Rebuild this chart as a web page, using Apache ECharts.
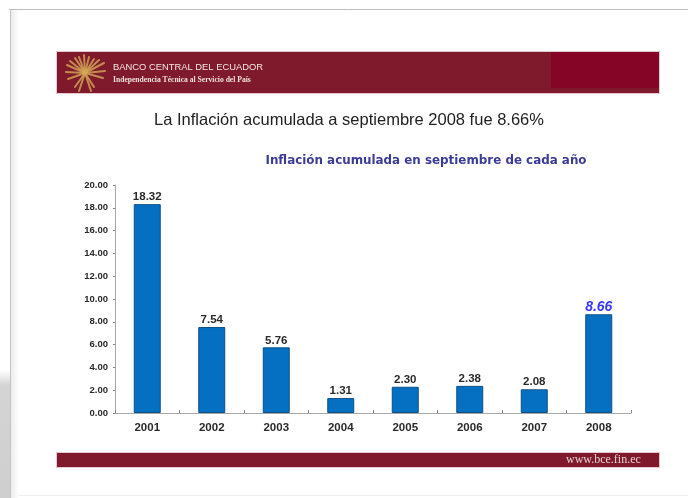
<!DOCTYPE html>
<html>
<head>
<meta charset="utf-8">
<style>
html, body { margin: 0; padding: 0; background: #fff; }
#chart { width: 688px; height: 498px; }
</style>
<script src="https://cdn.jsdelivr.net/npm/echarts@6/dist/echarts.min.js"></script>
</head>
<body>
<div id="chart"></div>
<script>
const years = ['2001', '2002', '2003', '2004', '2005', '2006', '2007', '2008'];
const inflation = [18.32, 7.54, 5.76, 1.31, 2.30, 2.38, 2.08, 8.66];
const chartFont = 'Liberation Sans, Arial, sans-serif';

const dataLabel = {
    show: true,
    position: 'top',
    distance: 1,
    formatter: (p) => p.value.toFixed(2),
    fontFamily: chartFont,
    fontSize: 11.5,
    fontWeight: 'bold',
    color: '#2a2a2a'
};

// last bar has its own blue italic label
const barData = inflation.map((v, i) => {
    if (i === inflation.length - 1) {
        return {
            value: v,
            label: { fontSize: 14, fontStyle: 'italic', color: '#3a3aff', distance: 0 }
        };
    }
    return v;
});

// gold rays of the bank's logo
const logoRays = [
    [-18, -8], [-15, -12], [-10, -15], [-6, -16], [-1, -18], [4, -16], [9, -14], [14, -13], [19, -10],
    [-19, -1], [20, -2], [-17, 6], [18, 5], [-10, 14], [-6, 18], [9, 14], [6, 18]
].map(([dx, dy]) => ({
    type: 'line',
    shape: { x1: 85, y1: 73, x2: 85 + dx, y2: 73 + dy },
    style: { stroke: '#d4a957', lineWidth: 2, opacity: 0.8, lineCap: 'round' }
}));

const leftShade = {
    type: 'linear', x: 0, y: 0, x2: 0, y2: 1,
    colorStops: [{ offset: 0, color: '#ffffff' }, { offset: 0.12, color: '#d4d4d4' }, { offset: 1, color: '#cfcfcf' }]
};
const innerShade = {
    type: 'linear', x: 0, y: 0, x2: 1, y2: 0,
    colorStops: [{ offset: 0, color: '#ececec' }, { offset: 1, color: '#ffffff' }]
};

const frame = [
    { type: 'rect', shape: { x: 0, y: 370, width: 10, height: 128 }, style: { fill: leftShade } },
    { type: 'rect', shape: { x: 11, y: 10, width: 8, height: 488 }, style: { fill: innerShade } },
    { type: 'line', shape: { x1: 9, y1: 9.5, x2: 688, y2: 9.5 }, style: { stroke: '#bdbdbd', lineWidth: 1 } },
    { type: 'line', shape: { x1: 10.5, y1: 9, x2: 10.5, y2: 498 }, style: { stroke: '#c4c4c4', lineWidth: 1 } },
    { type: 'line', shape: { x1: 18, y1: 495.5, x2: 688, y2: 495.5 }, style: { stroke: '#efefef', lineWidth: 1 } },
    { type: 'rect', shape: { x: 56.5, y: 51.5, width: 603, height: 42 }, style: { fill: '#7f1a2c', stroke: '#e8c8d0', lineWidth: 1 } },
    { type: 'rect', shape: { x: 551, y: 52, width: 108, height: 36 }, style: { fill: '#840525' } },
    { type: 'rect', shape: { x: 56.5, y: 452.5, width: 603, height: 15 }, style: { fill: '#7f1a2c', stroke: '#e8c8d0', lineWidth: 1 } }
];

const texts = [
    { type: 'text', x: 113, y: 63, style: { text: 'BANCO CENTRAL DEL ECUADOR', fill: '#f3e6e0', font: '9.4px "Liberation Sans"' } },
    { type: 'text', x: 113, y: 76, style: { text: 'Independencia Técnica al Servicio del País', fill: '#efe0da', font: 'bold 7.6px "Liberation Serif"' } },
    { type: 'text', x: 566, y: 454, style: { text: 'www.bce.fin.ec', fill: '#e4cfcf', font: '12px "Liberation Serif"' } }
];

const chart = echarts.init(document.getElementById('chart'), null, { renderer: 'canvas' });
chart.setOption({
    animation: false,
    backgroundColor: '#fff',
    title: [
        {
            text: 'La Inflación acumulada a septiembre 2008 fue 8.66%',
            left: 344,
            top: 107,
            textAlign: 'center',
            textStyle: { fontFamily: chartFont, fontSize: 16.5, fontWeight: 'normal', color: '#222' }
        },
        {
            text: 'Inflación acumulada en septiembre de cada año',
            left: 421,
            top: 150,
            textAlign: 'center',
            textStyle: { fontFamily: 'DejaVu Sans, sans-serif', fontSize: 11.9, fontWeight: 'bold', color: '#3c3c96' }
        }
    ],
    grid: { left: 115, top: 185, width: 516, height: 228 },
    xAxis: {
        type: 'category',
        data: years,
        axisLine: { lineStyle: { color: '#a8a8a8', width: 1 } },
        axisTick: { show: true, alignWithLabel: false, length: 3, inside: true, lineStyle: { color: '#888' } },
        axisLabel: { fontFamily: chartFont, fontSize: 11.5, fontWeight: 'bold', color: '#2a2a2a', margin: 9 }
    },
    yAxis: {
        type: 'value',
        min: 0,
        max: 20,
        interval: 2,
        splitLine: { show: false },
        axisLine: { show: true, lineStyle: { color: '#a8a8a8', width: 1 } },
        axisTick: { show: true, length: 2, lineStyle: { color: '#888' } },
        axisLabel: {
            fontFamily: chartFont,
            fontSize: 9.5,
            fontWeight: 'bold',
            color: '#2a2a2a',
            margin: 7,
            formatter: (v) => v.toFixed(2)
        }
    },
    series: [
        {
            type: 'bar',
            data: barData,
            barWidth: 27,
            itemStyle: { color: '#0570c1', borderColor: '#0c4f86', borderWidth: 1 },
            label: dataLabel
        }
    ],
    graphic: [...frame, ...logoRays, ...texts]
});
</script>
</body>
</html>
